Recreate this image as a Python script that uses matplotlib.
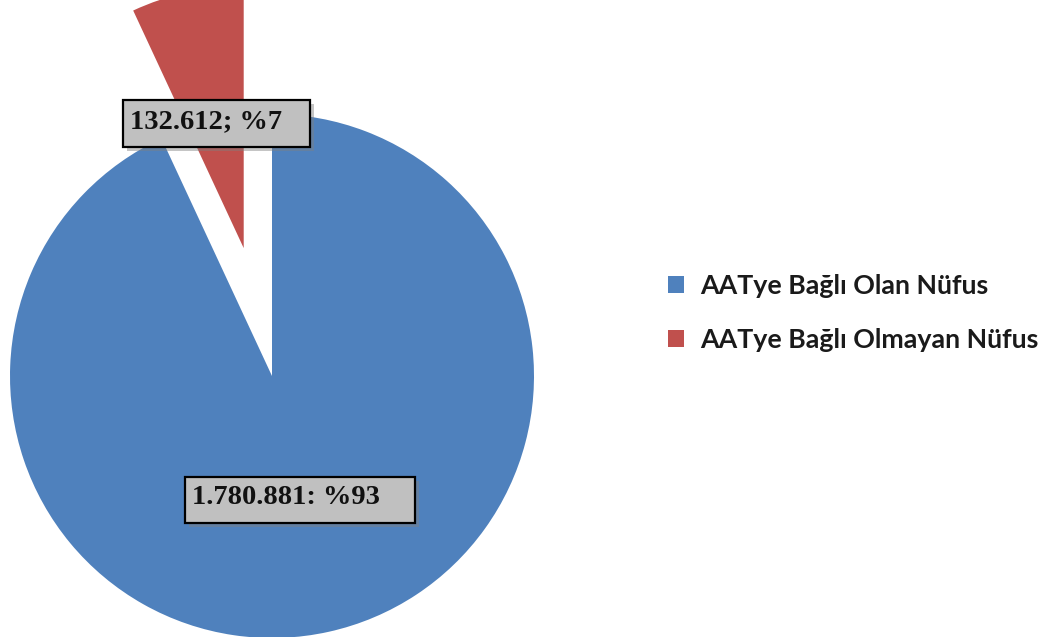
import matplotlib
matplotlib.use("Agg")
import matplotlib.pyplot as plt
from matplotlib.patches import Rectangle, Patch

labels = ["AATye Bağlı Olan Nüfus", "AATye Bağlı Olmayan Nüfus"]
values = [1780881, 132612]
label_texts = ["1.780.881: %93", "132.612; %7"]
colors = ["#4F81BD", "#C0504D"]

W, H = 1049, 637
fig = plt.figure(figsize=(W / 100, H / 100), dpi=100)

# axes: pie center at pixel (272, 376), radius 262 px
cx, cy, r = 272, 376, 262
left_px, right_px = cx - r, cx + r
top_px, bot_px = 6, H
ax = fig.add_axes([left_px / W, 0, (right_px - left_px) / W, (H - top_px) / H])
ax.pie(values, colors=colors, startangle=90, counterclock=False,
       explode=[0, 0.5], radius=1.0, center=(0, 0),
       wedgeprops=dict(linewidth=0))
ax.set_xlim(-1, 1)
ax.set_ylim((cy - bot_px) / r, (cy - top_px) / r)
ax.set_aspect("auto")
ax.axis("off")


def label_box(x0, y0, x1, y1, text):
    # pixel coords (top-left origin)
    tr = fig.transFigure
    sh = Rectangle((x0 / W + 4 / W, 1 - (y1 + 4) / H), (x1 - x0) / W, (y1 - y0) / H,
                   transform=tr, facecolor="#7f7f7f", edgecolor="none", alpha=0.45, zorder=5)
    bx = Rectangle((x0 / W, 1 - y1 / H), (x1 - x0) / W, (y1 - y0) / H,
                   transform=tr, facecolor="#C0C0C0", edgecolor="black", linewidth=1.6, zorder=6)
    fig.add_artist(sh)
    fig.add_artist(bx)
    fig.text((x0 + 7) / W, 1 - ((y0 + y1) / 2 - 2) / H, text, transform=tr,
             fontsize=20.5, fontweight="bold", family="Liberation Serif",
             ha="left", va="center", zorder=7, color="#111111")


label_box(123, 100, 310, 147, label_texts[1])
label_box(185, 477, 415, 523, label_texts[0])

handles = [Patch(facecolor=c, edgecolor="none") for c in colors]
leg = fig.legend(handles, labels, loc="center left", bbox_to_anchor=(644 / W, 1 - 313 / H),
                 frameon=False, handlelength=0.6, handleheight=0.6, handletextpad=0.6,
                 labelspacing=1.1, prop=dict(family="Lato", weight="bold", size=19.3))
for t in leg.get_texts():
    t.set_color("#1a1a1a")

fig.savefig("out.png", dpi=100)
